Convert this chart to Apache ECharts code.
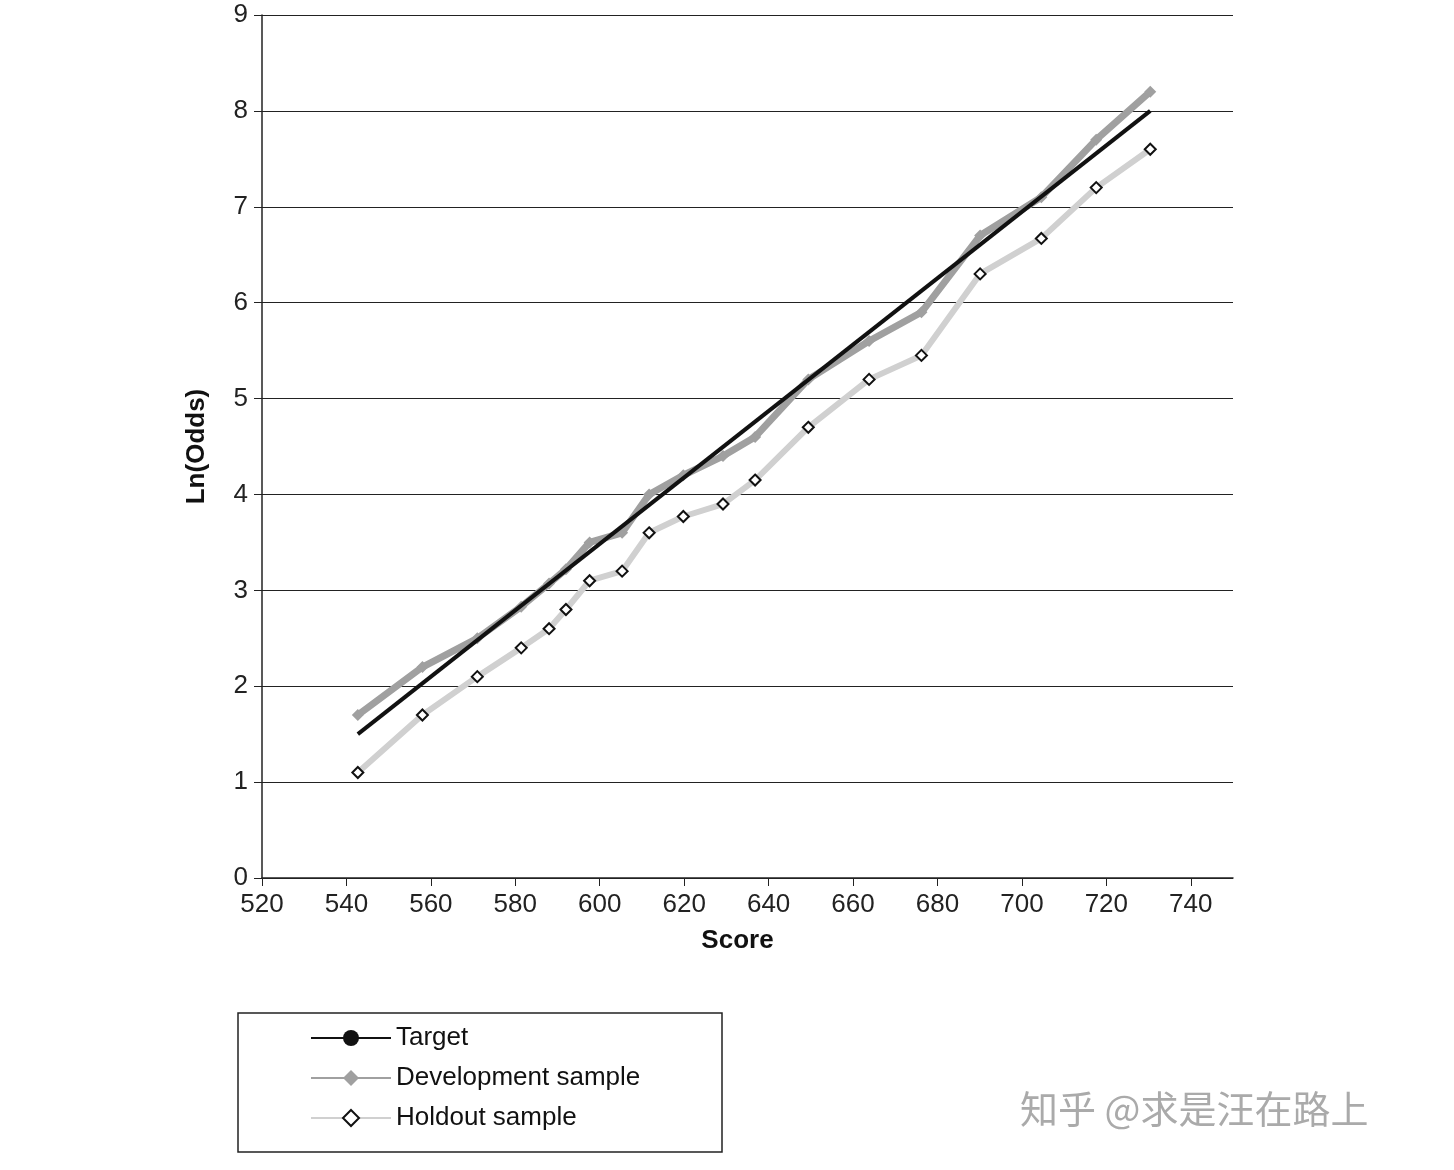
<!DOCTYPE html>
<html><head><meta charset="utf-8">
<script src="https://cdn.jsdelivr.net/npm/echarts@6/dist/echarts.min.js"></script>
<style>html,body{margin:0;padding:0;background:#fff}#c{width:1454px;height:1170px}</style>
</head><body><div id="c"></div>
<script>
const scores = [542.7,558,571,581.4,588,592,597.6,605.3,611.7,619.8,629.2,636.8,649.4,663.8,676.2,690.1,704.6,717.6,730.4];
const devValues = [1.7,2.2,2.5,2.83,3.07,3.22,3.5,3.6,4.0,4.2,4.4,4.6,5.2,5.6,5.9,6.7,7.1,7.7,8.2];
const holdValues = [1.1,1.7,2.1,2.4,2.6,2.8,3.1,3.2,3.6,3.77,3.9,4.15,4.7,5.2,5.45,6.3,6.67,7.2,7.6];
const targetScores = [542.7,730.4];
const targetValues = [1.5,8.0];
const zip = (a,b)=>a.map((v,i)=>[v,b[i]]);
const font = 'Liberation Sans, Arial, sans-serif';
const chart = echarts.init(document.getElementById('c'));
chart.setOption({
  animation:false,
  grid:{left:262,right:221,top:15,bottom:292},
  xAxis:{type:'value',min:520,max:750,interval:20,
    name:'Score',nameLocation:'middle',nameGap:50,
    nameTextStyle:{fontFamily:font,fontSize:26,fontWeight:'bold',color:'#111',padding:[0,0,0,-20]},
    axisLine:{lineStyle:{color:'#222',width:1.5}},axisTick:{length:8,lineStyle:{color:'#222'}},
    axisLabel:{fontFamily:font,fontSize:26,color:'#222',margin:14,showMaxLabel:false},splitLine:{show:false}},
  yAxis:{type:'value',min:0,max:9,interval:1,
    name:'Ln(Odds)',nameLocation:'middle',nameGap:52,nameRotate:90,
    nameTextStyle:{fontFamily:font,fontSize:26,fontWeight:'bold',color:'#111'},
    axisLine:{show:true,lineStyle:{color:'#222',width:1.5}},axisTick:{show:true,length:8,lineStyle:{color:'#222'}},
    axisLabel:{fontFamily:font,fontSize:26,color:'#222',margin:14},
    splitLine:{lineStyle:{color:'#222',width:1.2}}},
  legend:{orient:'vertical',left:305,top:1020,itemGap:14,itemWidth:80,itemHeight:20,
    textStyle:{fontFamily:font,fontSize:26,color:'#111'},
    data:['Target','Development sample','Holdout sample']},
  graphic:[
    {type:'rect',shape:{x:238,y:1013,width:484,height:139},style:{fill:'none',stroke:'#222',lineWidth:1.5}},
    {type:'text',left:1020,top:1090,style:{text:'知乎 @求是汪在路上',fontFamily:'Noto Sans CJK SC',fontSize:38,fill:'#aaa'}}
  ],
  series:[
    {name:'Target',type:'line',data:zip(targetScores,targetValues),showSymbol:false,symbol:'none',
      lineStyle:{color:'#111',width:4},itemStyle:{color:'#111'},z:3},
    {name:'Development sample',type:'line',data:zip(scores,devValues),symbol:'diamond',symbolSize:12,
      lineStyle:{color:'#a0a0a0',width:7},itemStyle:{color:'#a0a0a0'},z:2},
    {name:'Holdout sample',type:'line',data:zip(scores,holdValues),symbol:'diamond',symbolSize:11,
      lineStyle:{color:'#d0d0d0',width:6},itemStyle:{color:'#fff',borderColor:'#111',borderWidth:2},z:4}
  ]
});
</script></body></html>
